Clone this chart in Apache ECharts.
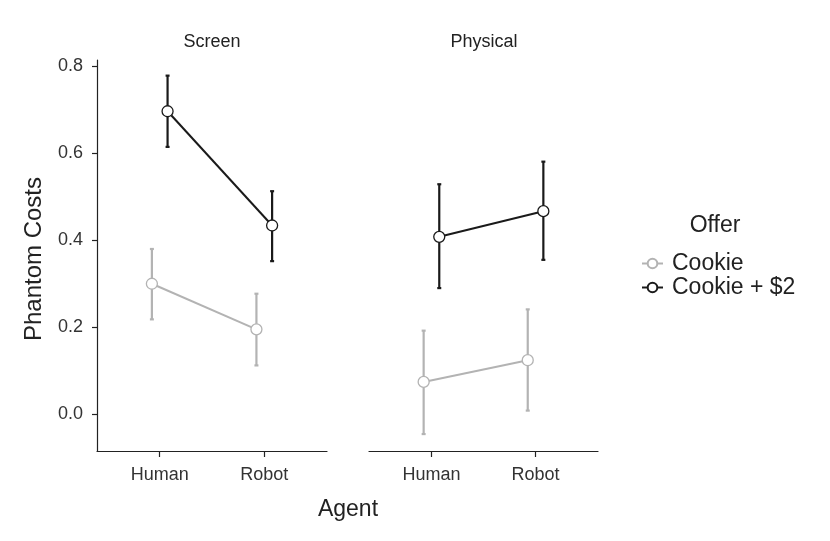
<!DOCTYPE html>
<html>
<head>
    <meta charset="UTF-8">
    <title>Phantom Costs</title>
    <script src="https://cdn.jsdelivr.net/npm/echarts@6/dist/echarts.min.js"></script>
</head>
<body style="margin:0">
<div id="main" style="width: 830px;height:541px;"></div>
<script>
    // facets, agents, offers
    var panels = ['Screen', 'Physical'];
    var agents = ['Human', 'Robot'];
    var offers = ['Cookie', 'Cookie + $2'];
    var yTicks = [0, 0.2, 0.4, 0.6, 0.8];

    // means [Human, Robot] per panel
    var screenCookie = [0.300, 0.195];
    var screenCookie2 = [0.697, 0.434];
    var physicalCookie = [0.074, 0.124];
    var physicalCookie2 = [0.408, 0.467];

    // error bars [low, high] per agent
    var screenCookieErr = [[0.218, 0.380], [0.112, 0.277]];
    var screenCookie2Err = [[0.615, 0.779], [0.352, 0.513]];
    var physicalCookieErr = [[-0.046, 0.192], [0.008, 0.241]];
    var physicalCookie2Err = [[0.290, 0.529], [0.355, 0.581]];

    var colors = ['#b3b3b3', '#1a1a1a'];
    var dodge = [-0.075, 0.075];
    var font = 'Liberation Sans, Arial, sans-serif';

    var means = [[screenCookie, screenCookie2], [physicalCookie, physicalCookie2]];
    var errs = [[screenCookieErr, screenCookie2Err], [physicalCookieErr, physicalCookie2Err]];

    var myChart = echarts.init(document.getElementById('main'));

    var grids = [
        {left: 97, width: 230, top: 60, height: 391},
        {left: 369, width: 229, top: 60, height: 391}
    ];

    var xAxes = [], yAxes = [], lines = [], bars = [];
    panels.forEach(function (p, pi) {
        xAxes.push({
            type: 'value', gridIndex: pi, min: -0.6, max: 1.6,
            splitLine: {show: false},
            axisLine: {show: true, onZero: false, lineStyle: {color: '#222', width: 1.2}},
            axisTick: {show: true, customValues: [0, 1], length: 6, lineStyle: {color: '#222', width: 1.2}},
            axisLabel: {
                customValues: [0, 1], color: '#333', fontSize: 18, fontFamily: font, margin: 15,
                formatter: function (v) { return agents[Math.round(v)]; }
            }
        });
        yAxes.push({
            type: 'value', gridIndex: pi, min: -0.085, max: 0.815,
            show: pi === 0,
            splitLine: {show: false},
            axisLine: {show: true, onZero: false, lineStyle: {color: '#222', width: 1.2}},
            axisTick: {show: true, customValues: yTicks, length: 5, lineStyle: {color: '#222', width: 1.2}},
            axisLabel: {
                customValues: yTicks, color: '#333', fontSize: 18, fontFamily: font, margin: 14,
                formatter: function (v) { return v.toFixed(1); }
            }
        });

        offers.forEach(function (o, oi) {
            bars.push({
                type: 'custom', name: o, xAxisIndex: pi, yAxisIndex: pi, z: 2,
                data: errs[pi][oi].map(function (e, ai) { return [ai + dodge[oi], e[0], e[1]]; }),
                renderItem: function (params, api) {
                    var lo = api.coord([api.value(0), api.value(1)]);
                    var hi = api.coord([api.value(0), api.value(2)]);
                    var w = 2;
                    var st = {stroke: colors[oi], lineWidth: 2.2};
                    return {
                        type: 'group', children: [
                            {type: 'line', shape: {x1: lo[0], y1: lo[1], x2: hi[0], y2: hi[1]}, style: st},
                            {type: 'line', shape: {x1: lo[0] - w, y1: lo[1], x2: lo[0] + w, y2: lo[1]}, style: st},
                            {type: 'line', shape: {x1: hi[0] - w, y1: hi[1], x2: hi[0] + w, y2: hi[1]}, style: st}
                        ]
                    };
                }
            });
            lines.push({
                type: 'line', name: o, xAxisIndex: pi, yAxisIndex: pi, z: 3,
                data: means[pi][oi].map(function (v, ai) { return [ai + dodge[oi], v]; }),
                symbol: 'circle', symbolSize: 11,
                lineStyle: {color: colors[oi], width: 2},
                itemStyle: {color: '#fff', borderColor: colors[oi], borderWidth: 1.3},
                emphasis: {disabled: true}
            });
        });
    });

    var option = {
        backgroundColor: '#fff',
        animation: false,
        grid: grids,
        xAxis: xAxes,
        yAxis: yAxes,
        legend: {
            orient: 'vertical', left: 636, top: 247, itemGap: 1,
            itemWidth: 21, itemHeight: 12,
            data: offers,
            textStyle: {fontSize: 23, color: '#222', fontFamily: font, padding: [0, 0, 0, 4]},
            selectedMode: false
        },
        graphic: [
            {type: 'text', x: 212, y: 42, style: {text: panels[0], font: '18px ' + font, fill: '#222', textAlign: 'center', textVerticalAlign: 'middle'}},
            {type: 'text', x: 484, y: 42, style: {text: panels[1], font: '18px ' + font, fill: '#222', textAlign: 'center', textVerticalAlign: 'middle'}},
            {type: 'text', x: 348, y: 510, style: {text: 'Agent', font: '23px ' + font, fill: '#222', textAlign: 'center', textVerticalAlign: 'middle'}},
            {type: 'text', x: 34, y: 259, rotation: Math.PI / 2, style: {text: 'Phantom Costs', font: '24px ' + font, fill: '#222', textAlign: 'center', textVerticalAlign: 'middle'}},
            {type: 'text', x: 715, y: 226, style: {text: 'Offer', font: '23px ' + font, fill: '#222', textAlign: 'center', textVerticalAlign: 'middle'}}
        ],
        series: lines.concat(bars)
    };

    myChart.setOption(option);
</script>
</body>
</html>
